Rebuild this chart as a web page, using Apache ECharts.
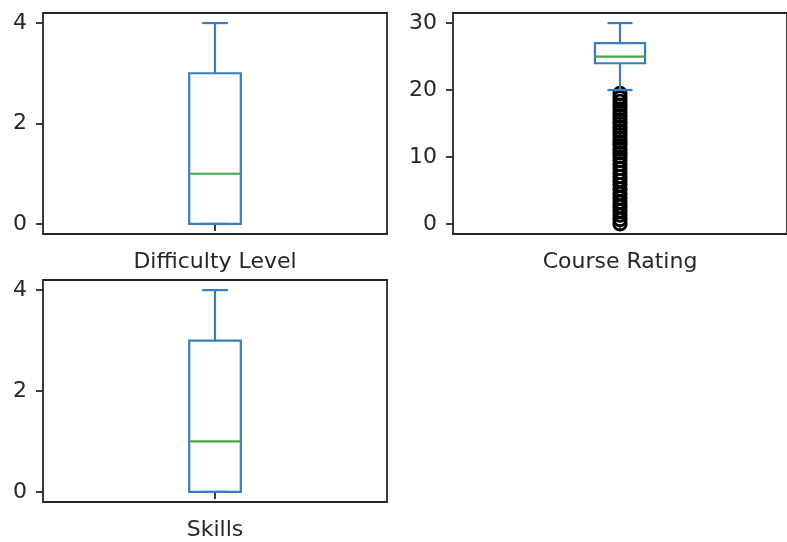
<!DOCTYPE html>
<html>
<head>
<meta charset="utf-8">
<script src="https://cdn.jsdelivr.net/npm/echarts@6/dist/echarts.min.js"></script>
<style>
  html, body { margin: 0; padding: 0; background: #fff; }
  #chart { width: 787px; height: 542px; }
</style>
</head>
<body>
<div id="chart"></div>
<script>
// ---- data (min, Q1, median, Q3, max of whiskers) ----
const difficultyCategory = ['Difficulty Level'];
const ratingCategory = ['Course Rating'];
const skillsCategory = ['Skills'];

const difficultyStats = [0, 0, 1, 3, 4];
const ratingStats = [20, 24, 25, 27, 30];
const skillsStats = [0, 0, 1, 3, 4];

const ratingOutliers = [0, 0.65, 1.3, 1.95, 2.6, 3.25, 3.9, 4.55, 5.2, 5.85, 6.5, 7.1, 7.7, 8.3,
  8.9, 9.5, 10.05, 10.6, 11.15, 11.7, 12.25, 12.8, 13.35, 13.9, 14.45, 15, 15.55, 16.1,
  16.65, 17.2, 17.75, 18.3, 18.85, 19.5];

const smallTicks = [0, 2, 4];
const ratingTicks = [0, 10, 20, 30];

// ---- style ----
const FONT = 'DejaVu Sans';
const FS = 22;
const TEXT = '#262626';
const FRAME = '#262626';
const BLUE = '#3a7cbd';
const GREEN = '#45a845';

function renderBox(params, api) {
  const x = api.value(0);
  const vMin = api.value(1), q1 = api.value(2), med = api.value(3), q3 = api.value(4), vMax = api.value(5);
  const band = api.size([1, 0])[0];
  const w = band * 0.15;
  const cw = w / 2;
  const pMin = api.coord([x, vMin]);
  const pQ1 = api.coord([x, q1]);
  const pMed = api.coord([x, med]);
  const pQ3 = api.coord([x, q3]);
  const pMax = api.coord([x, vMax]);
  const cx = pMin[0];
  const ls = { stroke: BLUE, lineWidth: 2.2, fill: null };
  return {
    type: 'group',
    children: [
      { type: 'line', shape: { x1: cx, y1: pQ1[1], x2: cx, y2: pMin[1] }, style: ls },
      { type: 'line', shape: { x1: cx, y1: pQ3[1], x2: cx, y2: pMax[1] }, style: ls },
      { type: 'line', shape: { x1: cx - cw / 2, y1: pMin[1], x2: cx + cw / 2, y2: pMin[1] }, style: ls },
      { type: 'line', shape: { x1: cx - cw / 2, y1: pMax[1], x2: cx + cw / 2, y2: pMax[1] }, style: ls },
      { type: 'rect', shape: { x: cx - w / 2, y: pQ3[1], width: w, height: pQ1[1] - pQ3[1] }, style: { stroke: BLUE, lineWidth: 2.2, fill: 'none' } },
      { type: 'line', shape: { x1: cx - w / 2, y1: pMed[1], x2: cx + w / 2, y2: pMed[1] }, style: { stroke: GREEN, lineWidth: 2.2 } }
    ]
  };
}

function xAxisFor(idx, cats) {
  return {
    type: 'category', gridIndex: idx, data: cats, boundaryGap: true,
    axisLine: { show: false },
    axisTick: { show: true, alignWithLabel: true, length: 7, lineStyle: { color: FRAME, width: 1.8 } },
    axisLabel: { color: TEXT, fontFamily: FONT, fontSize: FS, margin: 17 },
    splitLine: { show: false }
  };
}
function yAxisFor(idx, min, max, ticks) {
  return {
    type: 'value', gridIndex: idx, min: min, max: max,
    axisLine: { show: false },
    axisTick: { show: true, length: 7, customValues: ticks, lineStyle: { color: FRAME, width: 1.8 } },
    axisLabel: { color: TEXT, fontFamily: FONT, fontSize: FS, margin: 16, customValues: ticks },
    splitLine: { show: false }
  };
}

const gridStyle = { show: true, borderColor: FRAME, borderWidth: 1.8, backgroundColor: 'transparent' };

const option = {
  animation: false,
  backgroundColor: '#fff',
  grid: [
    Object.assign({ left: 43, top: 13, width: 344, height: 221 }, gridStyle),
    Object.assign({ left: 453, top: 13, width: 344, height: 221 }, gridStyle),
    Object.assign({ left: 43, top: 280, width: 344, height: 222 }, gridStyle)
  ],
  xAxis: [
    xAxisFor(0, difficultyCategory),
    xAxisFor(1, ratingCategory),
    xAxisFor(2, skillsCategory)
  ],
  yAxis: [
    yAxisFor(0, -0.2, 4.2, smallTicks),
    yAxisFor(1, -1.5, 31.5, ratingTicks),
    yAxisFor(2, -0.2, 4.2, smallTicks)
  ],
  series: [
    {
      type: 'scatter', xAxisIndex: 1, yAxisIndex: 1,
      data: ratingOutliers.map(v => [0, v]),
      symbol: 'circle', symbolSize: 12.4,
      itemStyle: { color: 'rgba(0,0,0,0)', borderColor: '#000', borderWidth: 2.8, opacity: 1 },
      z: 2, silent: true
    },
    {
      type: 'custom', xAxisIndex: 0, yAxisIndex: 0, renderItem: renderBox,
      encode: { x: 0, y: [1, 2, 3, 4, 5] },
      data: [[0].concat(difficultyStats)], z: 3, silent: true
    },
    {
      type: 'custom', xAxisIndex: 1, yAxisIndex: 1, renderItem: renderBox,
      encode: { x: 0, y: [1, 2, 3, 4, 5] },
      data: [[0].concat(ratingStats)], z: 3, silent: true
    },
    {
      type: 'custom', xAxisIndex: 2, yAxisIndex: 2, renderItem: renderBox,
      encode: { x: 0, y: [1, 2, 3, 4, 5] },
      data: [[0].concat(skillsStats)], z: 3, silent: true
    }
  ]
};

const chart = echarts.init(document.getElementById('chart'), null, { renderer: 'canvas' });
chart.setOption(option);
</script>
</body>
</html>
